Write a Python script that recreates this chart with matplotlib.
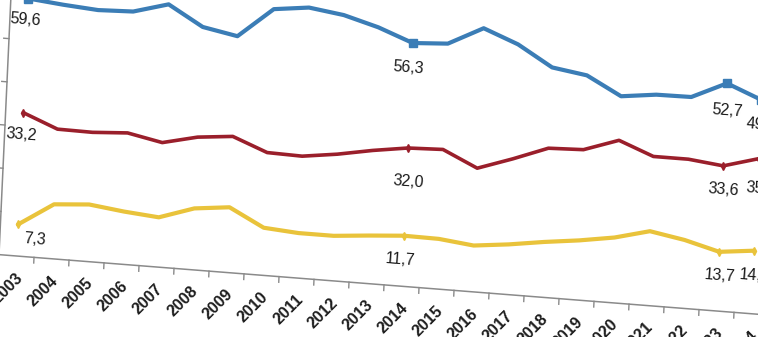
import numpy as np
import matplotlib
matplotlib.use("Agg")
import matplotlib.pyplot as plt
from matplotlib.transforms import Affine2D

years = list(range(2003, 2025))
blue_vals = [59.6, 58.8, 58.2, 58.5, 60.8, 56.2, 54.7, 61.6, 62.6, 61.5, 59.3,
             56.3, 56.8, 61.0, 57.9, 53.2, 52.0, 47.8, 48.8, 48.9, 52.7, 49.5]
red_vals = [33.2, 30.0, 29.9, 30.4, 28.8, 30.7, 31.5, 28.4, 28.2, 29.3, 30.8,
            32.0, 32.3, 28.6, 31.4, 34.5, 34.8, 37.6, 34.5, 34.5, 33.6, 35.9]
yellow_vals = [7.3, 12.6, 13.2, 12.2, 11.5, 14.2, 15.1, 11.0, 10.4, 10.4, 11.1,
               11.7, 11.6, 10.7, 11.6, 12.8, 13.8, 15.1, 17.2, 15.8, 13.7, 14.6]
label_years = [2003, 2014, 2023, 2024]
y_ticks = [0, 10, 20, 30, 40, 50, 60]

series = [
    (blue_vals, "#3b7db6", 3.0, "s", 6),
    (red_vals, "#9a1f2b", 2.6, "d", 4),
    (yellow_vals, "#e9c33b", 3.0, "d", 4),
]
# per-label nudges (points) for the value labels
label_nudge = {
    (0, 2003): (-2, -15), (0, 2014): (-3, -18), (0, 2023): (0, -20), (0, 2024): (0, -18),
    (1, 2003): (-1, -16), (1, 2014): (0, -24), (1, 2023): (0, -17), (1, 2024): (2, -22),
    (2, 2003): (12, -11), (2, 2014): (-3, -17), (2, 2023): (0, -17), (2, 2024): (0, -18),
}

fig = plt.figure(figsize=(7.58, 3.37), dpi=100)
ax = fig.add_axes([0, 0, 1, 1])
ax.set_xlim(0, 758)
ax.set_ylim(337, 0)
ax.axis("off")

# tilted chart plane: (category index, value) -> pixel position
plane = Affine2D.from_values(35, 2.75, 0.2, -4.32, 16.5, 256) + ax.transData
tilt = -4.5

idx = np.arange(len(years))
axis_col = "#8a8a8a"

# axes lines
ax.plot([-0.5, len(years) - 0.5], [0, 0], color=axis_col, lw=1.1, transform=plane)
ax.plot([-0.5, -0.5], [0, 62], color=axis_col, lw=1.1, transform=plane)
for t in y_ticks[1:]:
    ax.plot([-0.65, -0.5], [t, t], color=axis_col, lw=1.0, transform=plane)
for b in np.arange(-0.5, len(years), 1.0):
    ax.plot([b, b], [0, -1.3], color=axis_col, lw=1.0, transform=plane)

narrow = ["Liberation Sans Narrow", "Liberation Sans", "DejaVu Sans"]
for i, yr in enumerate(years):
    ax.text(i + 0.15, -4.4, str(yr), transform=plane, rotation=45,
            rotation_mode="anchor", ha="right", va="center",
            fontsize=11.5, fontweight="bold", family=narrow, color="#1e1e1e")

for k, (vals, col, lw, mk, ms) in enumerate(series):
    ax.plot(idx, vals, color=col, lw=lw, solid_joinstyle="round",
            solid_capstyle="round", transform=plane)
    mi = [years.index(y) for y in label_years]
    ax.plot(idx[mi], np.array(vals)[mi], ls="none", marker=mk, ms=ms,
            color=col, transform=plane)
    for y in label_years:
        i = years.index(y)
        v = vals[i]
        dx, dy = label_nudge[(k, y)]
        ax.annotate(f"{v:.1f}".replace(".", ","), xy=(i, v), xycoords=plane,
                    xytext=(dx, dy), textcoords="offset points",
                    ha="center", va="center", rotation=tilt,
                    fontsize=11.5, family=narrow, color="#1a1a1a")

fig.savefig("out.png", dpi=100)
